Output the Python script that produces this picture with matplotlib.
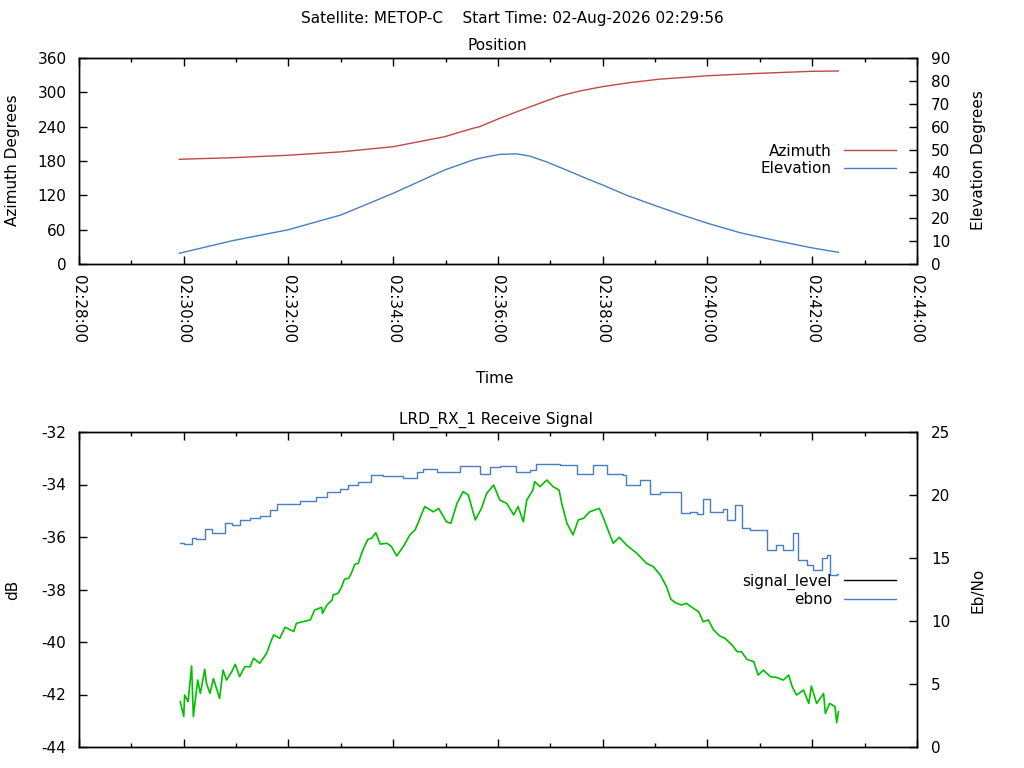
import numpy as np
import pandas as pd
import matplotlib
matplotlib.use("Agg")
import matplotlib.pyplot as plt
import matplotlib.dates as mdates
from matplotlib.lines import Line2D

#~~~~~~~~~~~~~~~~~~~~~~~~~~~~~~~~~~~~~Data~~~~~~~~~~~~~~~~~~~~~~~~~~~~~~~~~~~~~~

base = pd.Timestamp("2026-08-02 02:28:00")

# position, seconds after 02:28:00
az_sec = [115, 176, 239, 300, 360, 419, 451, 459, 482, 505, 528, 551, 574, 600,
          631, 665, 720, 776, 839, 870]
az_deg = [183, 185.8, 190, 196, 205, 222.5, 237, 240, 254.6, 268, 281, 293.6,
          302.4, 310, 317, 323, 329, 333, 336.7, 337.3]

el_sec = [115, 176, 239, 300, 360, 419, 451, 459, 482, 501, 516, 535, 558, 581,
          600, 627, 658, 688, 720, 757, 795, 839, 870]
el_deg = [4.7, 10.2, 14.9, 21.4, 30.9, 41.1, 45.4, 46.2, 47.9, 48.1, 47.2, 44.7,
          41.1, 37.4, 34.5, 30.1, 25.8, 21.8, 17.8, 13.7, 10.5, 7.1, 5.1]

# receive signal (green, dB)
sig_sec = [116, 120, 121, 125, 129, 131, 133, 136, 139, 144, 146, 150, 154, 161,
           165, 169, 175, 179, 184, 190, 196, 200, 207, 215, 219, 223, 230, 236,
           246, 249, 257, 265, 270, 278, 279, 284, 290, 291, 297, 301, 304, 309,
           312, 316, 320, 323, 326, 331, 335, 340, 345, 353, 358, 364, 372, 379,
           385, 389, 396, 406, 412, 421, 426, 433, 440, 446, 454, 461, 467, 475,
           482, 490, 498, 503, 509, 513, 520, 522, 528, 536, 543, 550, 553, 559,
           566, 572, 578, 585, 596, 601, 606, 612, 619, 627, 639, 650, 658, 666,
           673, 678, 683, 690, 696, 704, 710, 715, 721, 727, 734, 740, 748, 754,
           759, 765, 773, 778, 784, 792, 799, 807, 813, 817, 822, 830, 836, 839,
           845, 853, 855, 860, 866, 868, 870]
sig_db = [-42.27, -42.84, -42.02, -42.27, -40.91, -42.84, -42.27, -41.45, -41.96,
          -41.04, -41.57, -41.96, -41.39, -42.15, -41.07, -41.45, -41.13, -40.85,
          -41.32, -40.94, -40.94, -40.62, -40.81, -40.43, -40.05, -39.73, -39.86,
          -39.44, -39.60, -39.29, -39.22, -39.16, -38.78, -38.68, -38.91, -38.59,
          -38.40, -38.21, -38.14, -37.89, -37.61, -37.57, -37.38, -37.04, -37.00,
          -36.69, -36.43, -36.09, -36.05, -35.84, -36.27, -36.24, -36.37, -36.72,
          -36.34, -35.92, -35.73, -35.42, -34.84, -35.04, -34.91, -35.42, -35.48,
          -34.72, -34.27, -34.40, -35.35, -34.91, -34.34, -34.02, -34.59, -34.72,
          -35.16, -34.84, -35.42, -34.59, -34.21, -33.89, -34.08, -33.83, -34.08,
          -34.21, -34.72, -35.48, -35.92, -35.35, -35.29, -35.04, -34.91, -35.29,
          -35.73, -36.24, -36.01, -36.30, -36.62, -37.00, -37.13, -37.45, -37.89,
          -38.37, -38.50, -38.59, -38.53, -38.72, -38.85, -39.23, -39.16, -39.54,
          -39.77, -39.86, -40.11, -40.37, -40.37, -40.66, -40.75, -41.26, -41.07,
          -41.32, -41.35, -41.45, -41.26, -41.70, -42.02, -41.83, -42.34, -41.68,
          -42.34, -41.96, -42.72, -42.34, -42.46, -43.07, -42.65]

# Eb/No (blue)
ebno_sec = [116, 120, 129, 134, 144, 152, 167, 175, 184, 196, 207, 219, 227, 234,
            253, 272, 284, 299, 308, 320, 335, 348, 371, 387, 394, 410, 425, 437,
            459, 471, 482, 501, 517, 524, 551, 570, 589, 605, 623, 627, 643, 654,
            666, 681, 690, 700, 708, 715, 723, 738, 742, 752, 759, 769, 778, 788,
            799, 807, 818, 824, 834, 841, 851, 857, 860, 868, 870]
ebno = [16.2, 16.15, 16.6, 16.5, 17.3, 17.0, 17.8, 17.6, 18.0, 18.2, 18.35, 18.8,
        19.25, 19.3, 19.5, 19.85, 20.2, 20.5, 20.8, 21.05, 21.6, 21.5, 21.35, 21.8,
        22.05, 21.85, 21.8, 22.3, 21.7, 22.25, 22.3, 21.85, 22.0, 22.5, 22.35, 21.7,
        22.35, 21.65, 21.6, 20.8, 21.2, 20.1, 20.25, 20.25, 18.6, 18.65, 18.5, 19.7,
        18.65, 18.9, 18.05, 19.2, 17.35, 17.2, 17.25, 15.6, 16.0, 15.6, 16.95, 14.85,
        14.45, 14.05, 15.0, 15.25, 13.65, 13.75, 13.75]

def to_time(secs):
    return base + pd.to_timedelta(secs, unit="s")

#~~~~~~~~~~~~~~~~~~~~~~~~~~~~~~~~~~~~~Plot~~~~~~~~~~~~~~~~~~~~~~~~~~~~~~~~~~~~~~

red = "#c04848"
blue = "#4a7fbf"
green = "#00c000"
fs = 11

plt.rcParams["font.size"] = fs
plt.rcParams["axes.linewidth"] = 1.0
plt.rcParams["axes.unicode_minus"] = False

fig = plt.figure(figsize=(10.24, 7.68), dpi=100)

W, H = 1024.0, 768.0
def box(l, t, r, b):
    return [l / W, 1 - b / H, (r - l) / W, (b - t) / H]

ax1 = fig.add_axes(box(79, 58, 917, 264))
ax2 = ax1.twinx()
ax3 = fig.add_axes(box(79, 432, 917, 747))
ax4 = ax3.twinx()

x0 = base
x1 = base + pd.Timedelta(minutes=16)

l_az, = ax1.plot(to_time(az_sec), az_deg, color=red, lw=1.0, label="Azimuth")
l_el, = ax2.plot(to_time(el_sec), el_deg, color=blue, lw=1.0, label="Elevation")

ax3.plot(to_time(sig_sec), sig_db, color=green, lw=1.2)
l_eb, = ax4.plot(to_time(ebno_sec), ebno, color=blue, lw=1.0, drawstyle="steps-post", label="ebno")
l_sig = Line2D([], [], color="black", lw=1.0, label="signal_level")

ax1.set_ylim(0, 360)
ax1.set_yticks(np.arange(0, 361, 60))
ax2.set_ylim(0, 90)
ax2.set_yticks(np.arange(0, 91, 10))
ax3.set_ylim(-44, -32)
ax3.set_yticks(np.arange(-44, -31, 2))
ax4.set_ylim(0, 25)
ax4.set_yticks(np.arange(0, 26, 5))

for ax in (ax1, ax3):
    ax.set_xlim(x0, x1)
    ax.xaxis.set_major_locator(mdates.MinuteLocator(byminute=range(0, 60, 2)))
    ax.xaxis.set_minor_locator(mdates.MinuteLocator(byminute=range(1, 60, 2)))
    ax.xaxis.set_major_formatter(mdates.DateFormatter("%H:%M:%S"))
    ax.tick_params(axis="x", which="both", direction="in", top=True, bottom=True)
    ax.tick_params(axis="x", which="major", length=6, width=1, pad=8)
    ax.tick_params(axis="x", which="minor", length=3, width=1)
    ax.tick_params(axis="y", direction="in", length=6, width=1, pad=9)

for ax in (ax2, ax4):
    ax.tick_params(axis="y", direction="in", length=6, width=1, pad=10)

for lab in ax1.get_xticklabels():
    lab.set_rotation(270)
    lab.set_va("top")
    lab.set_ha("center")
ax3.tick_params(axis="x", labelbottom=False)

ax1.legend(handles=[l_az, l_el], loc="center right", bbox_to_anchor=(0.975, 0.505),
           frameon=False, markerfirst=False, handlelength=3.4, borderpad=0,
           borderaxespad=0, labelspacing=0.15, handletextpad=0.8)
ax4.legend(handles=[l_sig, l_eb], loc="center right", bbox_to_anchor=(0.975, 0.498),
           frameon=False, markerfirst=False, handlelength=3.4, borderpad=0,
           borderaxespad=0, labelspacing=0.15, handletextpad=0.8)

def ftext(x, y, s, **kw):
    fig.text(x / W, 1 - y / H, s, ha="center", va="center", fontsize=fs, **kw)

ftext(512, 18, "Satellite: METOP-C    Start Time: 02-Aug-2026 02:29:56")
ftext(497, 46, "Position")
ftext(496, 420, "LRD_RX_1 Receive Signal")
ftext(13, 160, "Azimuth Degrees", rotation=90)
ftext(978, 160, "Elevation Degrees", rotation=90)
ftext(495, 379, "Time")
ftext(13, 590, "dB", rotation=90)
ftext(978, 590, "Eb/No", rotation=90)

fig.savefig("out.png", dpi=100)
